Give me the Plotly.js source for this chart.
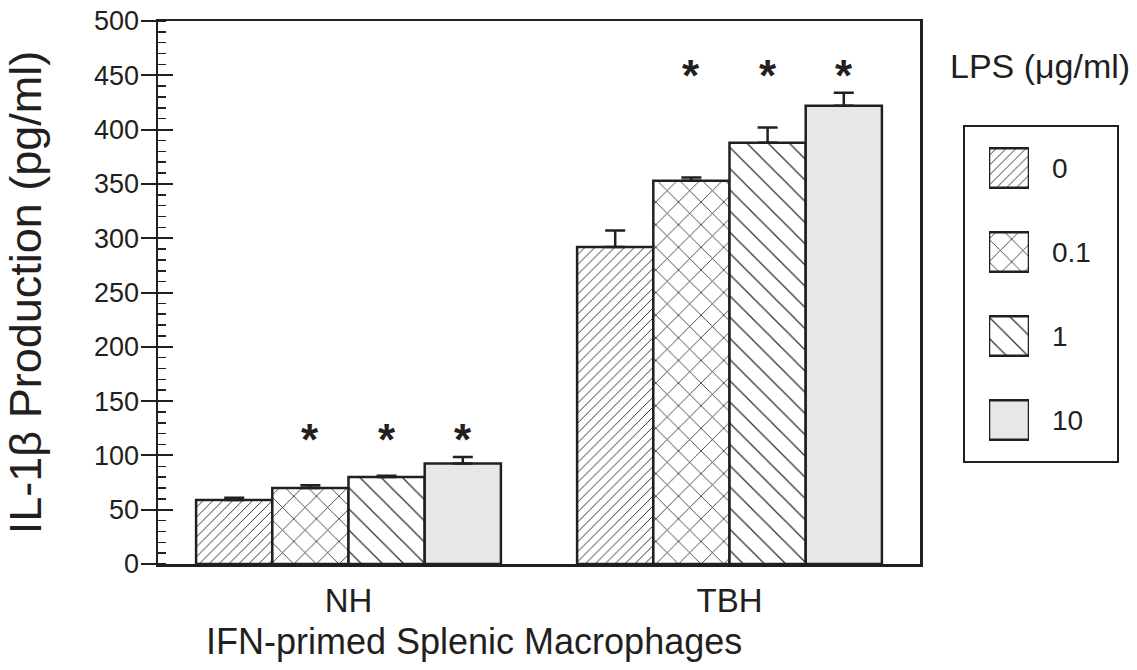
<!DOCTYPE html>
<html><head><meta charset="utf-8">
<script src="https://cdn.plot.ly/plotly-3.0.1.min.js"></script>
<style>html,body{margin:0;padding:0;background:#fff}#chart{width:1137px;height:670px}</style>
</head><body><div id="chart"></div>
<script>
// ---- data ----
const groups = ['NH', 'TBH'];
const doses = ['0', '0.1', '1', '10'];
const dose0 = [59, 292];
const dose01 = [70, 353];
const dose1 = [80, 388];
const dose10 = [92.5, 422];
const err0 = [2, 15];
const err01 = [2.5, 3];
const err1 = [1.2, 14];
const err10 = [6, 12];
const starredDoses = ['0.1', '1', '10'];
const yTicks = [0, 50, 100, 150, 200, 250, 300, 350, 400, 450, 500];
const legendTitle = 'LPS (\u03bcg/ml)';
const xTitle = 'IFN-primed Splenic Macrophages';
const yTitle = 'IL-1\u03b2 Production (pg/ml)';

// ---- styles ----
const W = 1137, H = 670;
const ink = '#231f20';
const font = 'Liberation Sans, Arial, Helvetica, sans-serif';
const fills = ['#ffffff', '#ffffff', '#ffffff', '#e6e7e8'];
const pShapes = ['/', 'x', '\\', ''];
const pSizes = [7, 16, 15, 8];
const pSolid = [0.14, 0.1, 0.08, 0.1];
const pFg = ['#333333', '#2a2a2a', '#2a2a2a', '#e6e7e8'];
const bargap = 0.2;

const values = [dose0, dose01, dose1, dose10];
const errs = [err0, err01, err1, err10];

const px = v => v / W, py = v => 1 - v / H;
const plotX = [px(158), px(920)];
const plotY = [py(564), py(21)];

const markerFor = j => ({
  color: fills[j],
  line: {color: ink, width: 2.5},
  pattern: pShapes[j] ? {shape: pShapes[j], size: pSizes[j], solidity: pSolid[j], fgcolor: pFg[j], bgcolor: fills[j], fillmode: 'replace'} : {shape: ''}
});

const traces = values.map((vals, j) => ({
  type: 'bar', name: doses[j], x: groups, y: vals,
  marker: markerFor(j),
  error_y: {type: 'data', symmetric: false, array: errs[j], arrayminus: errs[j].map(() => 0),
            color: ink, thickness: 2.5, width: 10},
  showlegend: false, hoverinfo: 'x+y'
}));

// legend swatches drawn as bars on their own small axes
doses.forEach((d, j) => traces.push({
  type: 'bar', orientation: 'h', x: [1], y: [d], offsetgroup: 'legend',
  xaxis: 'x2', yaxis: 'y2', width: 0.47, showlegend: false, hoverinfo: 'skip',
  marker: markerFor(j)
}));
// empty trace to carry the inward major ticks
traces.push({type: 'scatter', x: [], y: [], yaxis: 'y3', showlegend: false});

// asterisks over significant bars
const annotations = [];
const slot = (1 - bargap) / doses.length;
groups.forEach((g, i) => {
  const top = Math.max(...values.map((v, j) => v[i] + errs[j][i]));
  starredDoses.forEach(d => {
    const j = doses.indexOf(d);
    annotations.push({
      x: i - (1 - bargap) / 2 + slot * (j + 0.5), y: top + 24, xref: 'x', yref: 'y',
      text: '<b>*</b>', showarrow: false, xanchor: 'center', yanchor: 'middle', yshift: -9,
      font: {family: font, size: 44, color: ink}
    });
  });
});
annotations.push({
  x: px(1040), y: py(66), xref: 'paper', yref: 'paper', text: legendTitle, showarrow: false,
  xanchor: 'center', yanchor: 'middle',
  font: {family: font, size: 34, color: ink}
});
annotations.push({
  x: px(474), y: py(641), xref: 'paper', yref: 'paper', text: xTitle, showarrow: false,
  xanchor: 'center', yanchor: 'middle',
  font: {family: font, size: 36, color: ink}
});

const layout = {
  width: W, height: H,
  margin: {l: 0, r: 0, t: 0, b: 0},
  paper_bgcolor: '#fff', plot_bgcolor: '#fff',
  barmode: 'group', bargap: bargap, bargroupgap: 0,
  font: {family: font, color: ink},
  xaxis: {
    domain: plotX, type: 'category', range: [-0.5, 1.5], anchor: 'y',
    showline: true, mirror: true, linewidth: 2.5, linecolor: ink,
    ticks: '', showgrid: false, zeroline: false, automargin: false,
    tickfont: {family: font, size: 33, color: ink}, ticklabelstandoff: 6
  },
  yaxis: {
    domain: plotY, range: [0, 500], tickvals: yTicks, anchor: 'x',
    showline: true, mirror: true, linewidth: 2.5, linecolor: ink,
    ticks: 'outside', ticklen: 15, tickwidth: 2, tickcolor: ink,
    minor: {dtick: 10, ticks: 'inside', ticklen: 8, tickwidth: 1.5, tickcolor: ink, showgrid: false},
    showgrid: false, zeroline: false, automargin: false,
    tickfont: {family: font, size: 27, color: ink}, ticklabelstandoff: -4,
    title: {text: yTitle, font: {family: font, size: 45, color: ink}, standoff: 40}
  },
  yaxis3: {
    overlaying: 'y', anchor: 'x', side: 'left', range: [0, 500], tickvals: yTicks,
    ticks: 'inside', ticklen: 15, tickwidth: 2, tickcolor: ink,
    showticklabels: false, showgrid: false, zeroline: false, showline: false
  },
  xaxis2: {
    domain: [px(989), px(1029)], range: [0, 1], anchor: 'y2',
    showline: false, showticklabels: false, ticks: '', showgrid: false, zeroline: false, fixedrange: true
  },
  yaxis2: {
    domain: [py(462), py(126)], type: 'category', categoryarray: doses, categoryorder: 'array',
    range: [3.5, -0.5], anchor: 'x2', side: 'right',
    showline: false, ticks: '', showgrid: false, zeroline: false, fixedrange: true,
    tickfont: {family: font, size: 28, color: ink}, ticklabelstandoff: 22
  },
  shapes: [{
    type: 'rect', xref: 'paper', yref: 'paper',
    x0: px(964), x1: px(1118), y0: py(462), y1: py(126),
    line: {color: ink, width: 2}
  }],
  annotations: annotations
};

Plotly.newPlot('chart', traces, layout, {staticPlot: true, displayModeBar: false});
</script>
</body></html>
